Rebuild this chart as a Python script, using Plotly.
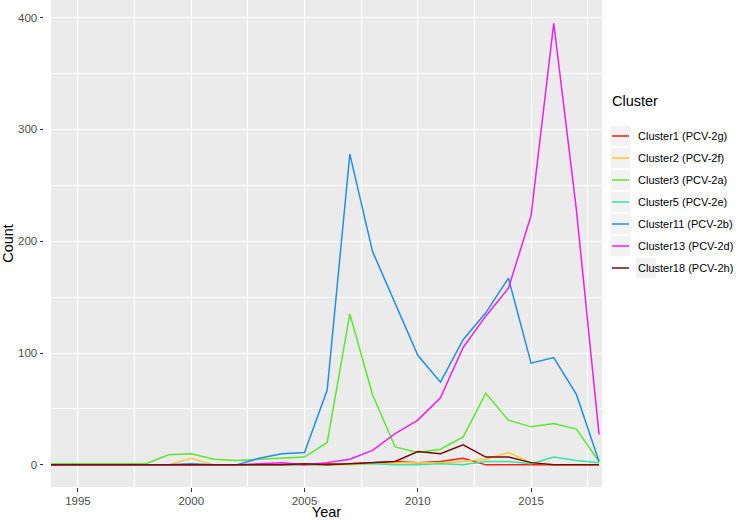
import plotly.graph_objects as go

# ---------------- data ----------------
years = [1993, 1994, 1995, 1996, 1997, 1998, 1999, 2000, 2001, 2002, 2003, 2004, 2005,
         2006, 2007, 2008, 2009, 2010, 2011, 2012, 2013, 2014, 2015, 2016, 2017, 2018]

cluster1 = [0, 0, 0, 0, 0, 0, 0, 0, 0, 0, 0, 0, 0, 1, 1, 2, 3, 2, 3, 6, 0, 0, 0, 0, 0, 0]
cluster2 = [0, 0, 0, 0, 0, 0, 0, 6, 0, 0, 0, 0, 0, 0, 0, 1, 2, 2, 2, 3, 5, 11, 2, 0, 0, 0]
cluster3 = [1, 1, 1, 1, 1, 1, 9, 10, 5, 4, 5, 6, 7, 20, 135, 63, 16, 11, 14, 25, 64, 40, 34, 37, 32, 3]
cluster5 = [0, 0, 0, 0, 0, 0, 0, 0, 0, 0, 0, 0, 0, 0, 1, 1, 0, 0, 1, 0, 3, 3, 1, 7, 4, 2]
cluster11 = [0, 0, 0, 0, 0, 0, 0, 1, 0, 0, 6, 10, 11, 67, 278, 191, 144, 98, 74, 112, 136, 167, 91, 96, 63, 3]
cluster13 = [0, 0, 0, 0, 0, 0, 0, 0, 0, 0, 1, 2, 0, 2, 5, 13, 28, 40, 60, 105, 133, 158, 223, 395, 228, 27]
cluster18 = [0, 0, 0, 0, 0, 0, 0, 0, 0, 0, 0, 0, 1, 0, 1, 2, 3, 12, 10, 18, 7, 7, 2, 0, 0, 0]

series_names = ["Cluster1 (PCV-2g)", "Cluster2 (PCV-2f)", "Cluster3 (PCV-2a)",
                "Cluster5 (PCV-2e)", "Cluster11 (PCV-2b)", "Cluster13 (PCV-2d)",
                "Cluster18 (PCV-2h)"]
series_values = [cluster1, cluster2, cluster3, cluster5, cluster11, cluster13, cluster18]
series_colors = ["#FF1A1A", "#FFC72C", "#5BE82E", "#33E6A6", "#1E8FEA", "#F01DF0", "#7A0A0A"]

x_tickvals = [1995, 2000, 2005, 2010, 2015]
y_tickvals = [0, 100, 200, 300, 400]
y_ticktext = ["0", "100", "200", "300", "400"]

# ---------------- geometry (pixels) ----------------
W, H = 740, 520
ML, MR, MT, MB = 43, 138, 0, 33
PW = W - ML - MR
PH = H - MT - MB


def px_x(p):
    return (p - ML) / PW


def px_y(p):
    return (H - MB - p) / PH


fig = go.Figure()
for name, vals, col in zip(series_names, series_values, series_colors):
    fig.add_trace(go.Scatter(x=years, y=vals, mode="lines", name=name,
                             line=dict(color=col, width=1.5), showlegend=False))

FONT = "Liberation Sans, Arial, Helvetica, sans-serif"

fig.update_layout(
    width=W, height=H,
    margin=dict(l=ML, r=MR, t=MT, b=MB, autoexpand=False),
    paper_bgcolor="white",
    plot_bgcolor="#EBEBEB",
    font=dict(family=FONT, color="#4D4D4D", size=11.5),
    xaxis=dict(
        domain=[px_x(51), 1],
        range=[1993.81, 2018.13],
        tickvals=x_tickvals,
        ticks="outside", ticklen=3.5, tickwidth=1, tickcolor="#333333",
        showgrid=True, gridcolor="white", gridwidth=1.1,
        minor=dict(dtick=2.5, tick0=1992.5, showgrid=True, gridcolor="white", gridwidth=0.55),
        zeroline=False, showline=False, automargin=False,
        tickfont=dict(size=11.5, color="#4D4D4D"),
        title=dict(text="Year", font=dict(size=14.5, color="black"), standoff=8),
    ),
    yaxis=dict(
        anchor="free", position=0,
        range=[-19.8, 415.8],
        tickvals=y_tickvals, ticktext=y_ticktext,
        ticks="outside", ticklen=3.5, tickwidth=1, tickcolor="#333333",
        showgrid=True, gridcolor="white", gridwidth=1.1,
        minor=dict(dtick=50, tick0=-50, showgrid=True, gridcolor="white", gridwidth=0.55),
        zeroline=False, showline=False, automargin=False,
        tickfont=dict(size=11.5, color="#4D4D4D"),
        title=dict(text="Count", font=dict(size=14.5, color="black"), standoff=3),
    ),
)

# ---------------- legend drawn in ggplot style ----------------
shapes = []
annotations = []
annotations.append(dict(x=px_x(610), y=px_y(101), xref="paper", yref="paper",
                        text="Cluster", showarrow=False, xanchor="left", yanchor="middle",
                        font=dict(size=14.5, color="black", family=FONT)))
row0, step = 136, 22
for i, (name, col) in enumerate(zip(series_names, series_colors)):
    cy = row0 + i * step
    if i < len(series_names) - 1:
        bx0, bx1 = 610.5, 630.5
    else:
        bx0, bx1 = 636, 656
    shapes.append(dict(type="rect", xref="paper", yref="paper",
                       x0=px_x(bx0), x1=px_x(bx1), y0=px_y(cy - 10.3), y1=px_y(cy + 10.3),
                       fillcolor="#F2F2F2", line=dict(width=0), layer="below"))
    shapes.append(dict(type="line", xref="paper", yref="paper",
                       x0=px_x(612), x1=px_x(629), y0=px_y(cy), y1=px_y(cy),
                       line=dict(color=col, width=1.5)))
    annotations.append(dict(x=px_x(636), y=px_y(cy), xref="paper", yref="paper",
                            text=name, showarrow=False, xanchor="left", yanchor="middle",
                            font=dict(size=11, color="black", family=FONT)))

fig.update_layout(shapes=shapes, annotations=annotations)
fig.write_html("out.html",
               config={"displayModeBar": False},
               post_script="document.body.style.margin='0';document.body.style.overflow='hidden';")
